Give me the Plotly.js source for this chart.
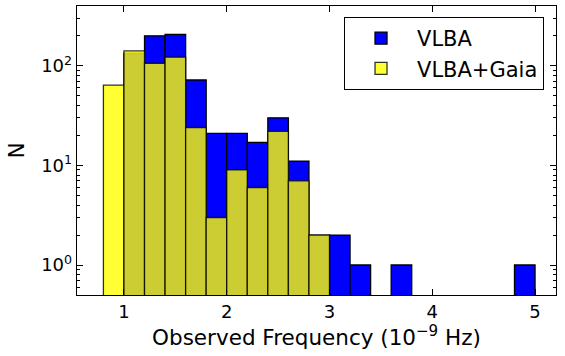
<!DOCTYPE html>
<html>
<head>
<meta charset="utf-8">
<script src="https://cdn.plot.ly/plotly-3.0.1.min.js"></script>
<style>
  html, body { margin: 0; padding: 0; background: #fff; }
  #chart { width: 565px; height: 356px; }
</style>
</head>
<body>
<div id="chart"></div>
<script>
// --- DATA (histogram bins, 0.2 wide, left edges) ---
const binLeft   = [0.8, 1.0, 1.2, 1.4, 1.6, 1.8, 2.0, 2.2, 2.4, 2.6, 2.8, 3.0, 3.2, 3.4, 3.6, 3.8, 4.0, 4.2, 4.4, 4.6, 4.8];
const vlbaCount = [null, 134, 200, 206, 72, 21, 21, 17, 30, 11, 2, 2, 1, null, 1, null, null, null, null, null, 1];
const gaiaCount = [64, 141, 106, 122, 24, 3, 9, 6, 22, 7, 2, null, null, null, null, null, null, null, null, null, null];
const binWidth = 0.2;

const xTickVals = [1, 2, 3, 4, 5];
const yTickVals = [1, 10, 100];
const yTickText = ['10<sup>0</sup>', '10<sup>1</sup>', '10<sup>2</sup>'];

const FONT = 'DejaVu Sans, sans-serif';

// --- TRACES ---
const vlba = {
    type: 'bar',
    name: 'VLBA',
    x: binLeft,
    y: vlbaCount,
    width: binWidth,
    offset: 0,
    marker: { color: '#0000ff', line: { color: '#000', width: 1.3 } }
};

const gaia = {
    type: 'bar',
    name: 'VLBA+Gaia',
    x: binLeft,
    y: gaiaCount,
    width: binWidth,
    offset: 0,
    marker: { color: 'rgba(255,255,0,0.8)', line: { color: 'rgba(0,0,0,0.8)', width: 1.3 } }
};

// --- LAYOUT ---
const layout = {
    width: 565,
    height: 356,
    margin: { l: 77, r: 9, t: 6, b: 61 },
    paper_bgcolor: '#fff',
    plot_bgcolor: '#fff',
    barmode: 'overlay',
    bargap: 0,
    font: { family: FONT, size: 18, color: '#000' },
    showlegend: true,
    legend: {
        x: 0.975, y: 0.962, xanchor: 'right', yanchor: 'top',
        bordercolor: '#000', borderwidth: 1, bgcolor: '#fff',
        font: { family: FONT, size: 21 },
        itemwidth: 62,
        tracegroupgap: 2
    },
    xaxis: {
        range: [0.543, 5.204],
        tickvals: xTickVals,
        ticks: 'inside', ticklen: 6, tickwidth: 1, tickcolor: '#000',
        showline: true, linecolor: '#000', linewidth: 1.3, mirror: 'allticks',
        showgrid: false, zeroline: false,
        tickfont: { family: FONT, size: 18 },
        title: { text: 'Observed Frequency (10<sup>\u22129</sup> Hz)', font: { family: FONT, size: 21.5 }, standoff: 8 }
    },
    yaxis: {
        type: 'log',
        range: [-0.301, 2.6],
        tickvals: yTickVals,
        ticktext: yTickText,
        ticks: 'inside', ticklen: 6, tickwidth: 1, tickcolor: '#000',
        minor: { ticks: 'inside', ticklen: 3, tickcolor: '#000', dtick: 'D1', showgrid: false },
        showline: true, linecolor: '#000', linewidth: 1.3, mirror: 'allticks',
        showgrid: false, zeroline: false,
        tickfont: { family: FONT, size: 18 },
        title: { text: 'N', font: { family: FONT, size: 21 }, standoff: 10 }
    }
};

Plotly.newPlot('chart', [vlba, gaia], layout, { staticPlot: true });
</script>
</body>
</html>
